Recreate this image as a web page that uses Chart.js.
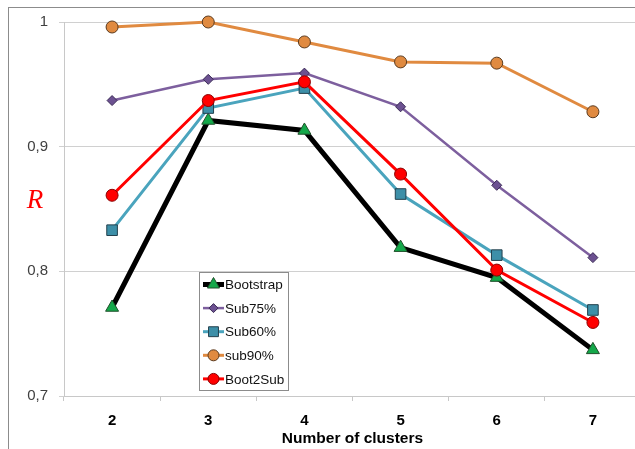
<!DOCTYPE html>
<html>
<head>
<meta charset="utf-8">
<script src="https://cdn.jsdelivr.net/npm/chart.js@4.4.1/dist/chart.umd.min.js"></script>
<style>
  html, body { margin: 0; padding: 0; background: #fff; overflow: hidden; }
  #wrap { position: relative; width: 635px; height: 449px; overflow: hidden; }
  #frame { position: absolute; left: 8px; top: 7px; width: 700px; height: 500px; border: 1px solid #8c8c8c; box-sizing: border-box; }
  #chart { position: absolute; left: 0; top: 0; }
</style>
</head>
<body>
<div id="wrap">
  <div id="frame"></div>
  <canvas id="chart" width="645" height="449"></canvas>
</div>
<script>
// data
const clusters = ["2", "3", "4", "5", "6", "7"];
const bootstrap = [0.771, 0.921, 0.913, 0.819, 0.795, 0.737];
const sub75 = [0.937, 0.954, 0.959, 0.932, 0.869, 0.811];
const sub60 = [0.833, 0.931, 0.947, 0.862, 0.813, 0.769];
const sub90 = [0.996, 1.0, 0.984, 0.968, 0.967, 0.928];
const boot2sub = [0.861, 0.937, 0.952, 0.878, 0.801, 0.759];
const yTicks = [0.7, 0.8, 0.9, 1];

const series = [
  { label: "Bootstrap", data: bootstrap, line: "#000000", fill: "#14a84a", edge: "#1f4f2a", width: 5, style: "triangle", r: 7.5 },
  { label: "Sub75%", data: sub75, line: "#7d5f9e", fill: "#6c5191", edge: "#3a2a55", width: 2.5, style: "rectRot", r: 5 },
  { label: "Sub60%", data: sub60, line: "#4aa4bd", fill: "#3d8fa8", edge: "#23404d", width: 3, style: "rect", r: 7.5 },
  { label: "sub90%", data: sub90, line: "#e08a40", fill: "#e08a40", edge: "#5a3a1e", width: 3, style: "circle", r: 6 },
  { label: "Boot2Sub", data: boot2sub, line: "#ff0000", fill: "#ff0000", edge: "#8a0000", width: 3, style: "circle", r: 6 },
];

// legend box and R label, drawn on top of the plot
const extras = {
  id: "extras",
  afterDraw(chart) {
    const ctx = chart.ctx;
    ctx.save();
    ctx.fillStyle = "#ff0000";
    ctx.font = "italic 27px 'Liberation Serif'";
    ctx.textAlign = "center";
    ctx.textBaseline = "middle";
    ctx.fillText("R", 35, 201);

    const lx = 199.5, ly = 272.5, lw = 89, lh = 118;
    ctx.fillStyle = "#fff";
    ctx.fillRect(lx, ly, lw, lh);
    ctx.strokeStyle = "#8c8c8c";
    ctx.lineWidth = 1;
    ctx.strokeRect(lx, ly, lw, lh);
    ctx.font = "13.5px 'Liberation Sans'";
    ctx.textAlign = "left";
    series.forEach((s, i) => {
      const y = 284.5 + i * 23.6;
      ctx.strokeStyle = s.line;
      ctx.lineWidth = s.width;
      ctx.beginPath();
      ctx.moveTo(203, y);
      ctx.lineTo(224, y);
      ctx.stroke();
      ctx.fillStyle = s.fill;
      ctx.strokeStyle = s.edge;
      ctx.lineWidth = 1;
      Chart.helpers.drawPoint(ctx, { pointStyle: s.style, radius: s.r - 0.5, rotation: 0, borderWidth: 1 }, 213.5, y);
      ctx.fillStyle = "#111";
      ctx.fillText(s.label, 225, y + 1);
    });
    ctx.restore();
  }
};

new Chart(document.getElementById("chart"), {
  type: "line",
  data: {
    labels: clusters,
    datasets: series.map((s) => ({
      label: s.label,
      data: s.data,
      borderColor: s.line,
      borderWidth: s.width,
      backgroundColor: s.fill,
      pointBackgroundColor: s.fill,
      pointBorderColor: s.edge,
      pointBorderWidth: 1,
      pointStyle: s.style,
      pointRadius: s.r,
      tension: 0,
      clip: false,
    })).reverse(),
  },
  options: {
    responsive: false,
    animation: false,
    devicePixelRatio: 1,
    layout: { autoPadding: false, padding: { left: 0, right: 4, top: 22, bottom: 0 } },
    plugins: { legend: { display: false }, tooltip: { enabled: false } },
    scales: {
      x: {
        offset: true,
        afterFit(s) { s.height = 53; },
        grid: { display: true, drawOnChartArea: false, offset: true, color: "#c8c8c8", tickLength: 5 },
        border: { color: "#c8c8c8" },
        ticks: { color: "#000", font: { family: "Liberation Sans", size: 15, weight: "bold" }, padding: 11 },
        title: { display: true, text: "Number of clusters", color: "#000", font: { family: "Liberation Sans", size: 15.5, weight: "bold" }, padding: { top: 0, bottom: 1 } },
      },
      y: {
        min: 0.7,
        max: 1.0,
        afterFit(s) { s.width = 64; },
        afterBuildTicks(s) { s.ticks = yTicks.map((v) => ({ value: v })); },
        grid: { color: "#d0d0d0", tickLength: 5 },
        border: { color: "#c8c8c8" },
        ticks: {
          color: "#404040",
          font: { family: "Liberation Sans", size: 15 },
          padding: 11,
          callback: (v) => String(Math.round(v * 10) / 10).replace(".", ","),
        },
      },
    },
  },
  plugins: [extras],
});
</script>
</body>
</html>
